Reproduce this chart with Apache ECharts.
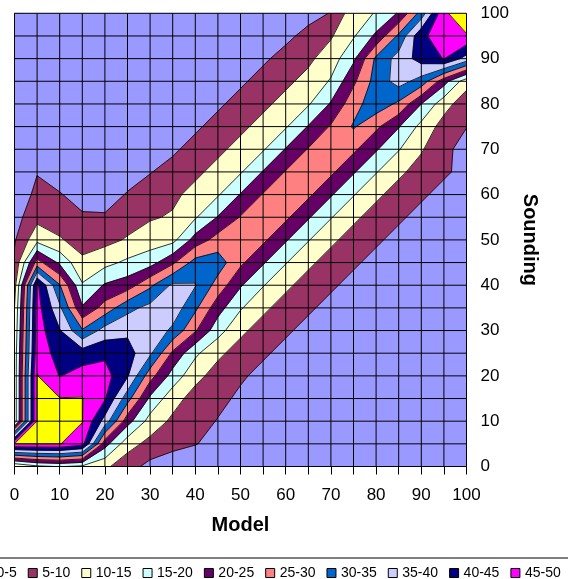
<!DOCTYPE html>
<html><head><meta charset="utf-8">
<script src="https://cdn.jsdelivr.net/npm/echarts/dist/echarts.min.js"></script>
<style>html,body{margin:0;padding:0;background:#fff;overflow:hidden}#c{width:568px;height:579px}</style>
</head><body><div id="c"></div><script>
// Model (x) and Sounding (y) grid values
const modelValues    = [0,5,10,15,20,25,30,35,40,45,50,55,60,65,70,75,80,85,90,95,100];
const soundingValues = [0,5,10,15,20,25,30,35,40,45,50,55,60,65,70,75,80,85,90,95,100];
// One row per sounding value; each row lists the value at every model value
const s0   = [10,14,15.3,14,11,7,3.5,2,1.5,1,0.6,0.5,0.4,0.4,0.4,0.4,0.4,0.4,0.4,0.4,0.4];
const s5   = [50.2,50.2,50.2,47,22,12,8.5,6.5,5.2,3.5,2.5,1.5,1,0.6,0.4,0.4,0.4,0.4,0.4,0.4,0.4];
const s10  = [12,50.2,54,50.2,38,22,13,9,6.5,4.8,3.3,2.2,1.4,0.9,0.6,0.4,0.4,0.4,0.4,0.4,0.4];
const s15  = [12,50.2,50.2,50.2,45.5,32,19,12,8,6,4.3,3,2,1.3,0.8,0.5,0.4,0.4,0.4,0.4,0.4];
const s20  = [12,50.2,44.8,47,47,40.5,27,18,11.5,8,5.5,4,2.5,1.5,1,0.6,0.4,0.4,0.4,0.4,0.4];
const s25  = [12,48,43,42.5,44,42,36,24,16,11,8,5.5,4,2.5,1.5,1,0.6,0.4,0.4,0.4,0.4];
const s30  = [11,47.5,40.3,30.5,37,39,38.5,34,25.5,17,11,8,5.5,4,2.5,1.5,1,0.6,0.4,0.4,0.4];
const s35  = [10,47,36,20.5,27,33.5,36.5,38,31,22,15.5,11,8,5.5,4,2.5,1.5,1,0.6,0.4,0.4];
const s40  = [8,46,30.3,15.5,20.5,22.5,29,36,35.3,28,20.5,15.3,11,8,5.5,4,2.5,1.5,1,0.6,0.4];
const s45  = [6,27,19,11,13.5,16,18,24,32,32.5,26,20.5,15.3,11,8,5.5,4,2.5,1.5,1,0.6];
const s50  = [4.5,13.5,10.5,8,8.5,10.5,12.5,13.5,22,27,28.5,26,20.5,15.3,11,8,5.5,4,2.5,1.5,1];
const s55  = [3,8.5,7.5,5.4,5.3,7.8,9.5,10.5,14.5,20.3,25.3,28.5,26,20.5,15.3,11,8,5.5,4,2.5,1.5];
const s60  = [2.2,6,5.2,3.8,3.8,5.2,7,9,11.5,14.5,20.3,25.3,28.5,26,20.5,15.3,11,8,5.5,4,2.5];
const s65  = [1.6,4.8,3.5,2.8,2.8,3.8,4.8,6.5,9,11.5,14.5,20.3,25.3,28.5,26,20.5,15.3,11,8,5.5,4];
const s70  = [1.2,3.5,2.5,2,2,2.8,3.5,4.3,6.5,9,11.5,14.5,20.3,25.3,29,26,20.5,15.3,10.5,6,3.5];
const s75  = [1,2.5,1.8,1.4,1.3,2,2.5,2.8,4.3,6.5,9,11.5,14.5,20.3,25.5,30.5,26,20.3,13.5,8,5.1];
const s80  = [0.8,1.8,1.3,1,0.9,1.4,1.8,1.8,2.8,4.3,6.5,9,11.5,14.5,20.5,28,33,29,20,12,7];
const s85  = [0.6,1.2,0.9,0.7,0.6,1,1.2,1.2,1.8,2.8,4.3,6.5,9,11.5,15.5,24,32,37,33,22,12];
const s90  = [0.5,0.8,0.7,0.5,0.5,0.7,0.8,0.8,1.2,1.8,2.8,4.3,6.5,9,12.5,19,31,37,42,45.2,38];
const s95  = [0.5,0.6,0.5,0.5,0.5,0.5,0.5,0.5,0.8,1.2,1.8,2.8,4,6.3,9.5,14.5,21,31,44,47.5,49.5];
const s100 = [0.5,0.5,0.5,0.5,0.5,0.5,0.5,0.5,0.5,0.8,1.2,1.8,2.5,3.5,5.2,13,15.3,20.5,32,49,54];
// Contour bands
const bandLabels = ['0-5','5-10','10-15','15-20','20-25','25-30','30-35','35-40','40-45','45-50','50-55'];
const bandEdges  = [0,5,10,15,20,25,30,35,40,45,50,55];
const bandColors = ['#9999FF','#993366','#FFFFCC','#CCFFFF','#660066','#FF8080','#0066CC','#CCCCFF','#000080','#FF00FF','#FFFF00'];

const rows = [s0,s5,s10,s15,s20,s25,s30,s35,s40,s45,s50,s55,s60,s65,s70,s75,s80,s85,s90,s95,s100];

function forCells(fn){
  for (let j=0;j<soundingValues.length-1;j++) for (let i=0;i<modelValues.length-1;i++){
    const x0=modelValues[i], x1=modelValues[i+1], y0=soundingValues[j], y1=soundingValues[j+1];
    fn([[x0,y0],[x1,y0],[x1,y1],[x0,y1]], [rows[j][i],rows[j][i+1],rows[j+1][i+1],rows[j+1][i]]);
  }
}
function bandPolys(lo, hi){
  const polys=[];
  forCells((P,V)=>{
    const pts=[];
    for (let k=0;k<4;k++){
      const a=V[k], b=V[(k+1)%4], pa=P[k], pb=P[(k+1)%4];
      if (a>=lo && a<hi) pts.push(pa);
      const cr=[];
      [lo,hi].forEach(L=>{
        if (isFinite(L) && ((a>=L)!==(b>=L))){
          const t=(L-a)/(b-a);
          cr.push([t,[pa[0]+t*(pb[0]-pa[0]), pa[1]+t*(pb[1]-pa[1])]]);
        }
      });
      cr.sort((p,q)=>p[0]-q[0]).forEach(c=>pts.push(c[1]));
    }
    if (pts.length>=3) polys.push(pts);
  });
  return polys;
}
function contourSegs(L){
  const segs=[];
  forCells((P,V)=>{
    const pts=[];
    for (let k=0;k<4;k++){
      const a=V[k], b=V[(k+1)%4], pa=P[k], pb=P[(k+1)%4];
      if ((a>=L)!==(b>=L)){
        const t=(L-a)/(b-a);
        pts.push([pa[0]+t*(pb[0]-pa[0]), pa[1]+t*(pb[1]-pa[1])]);
      }
    }
    if (pts.length===2) segs.push(pts);
    else if (pts.length===4){ segs.push([pts[0],pts[1]]); segs.push([pts[2],pts[3]]); }
  });
  return segs;
}

const bandPolygons = bandLabels.map((_,k)=>bandPolys(k===0?-Infinity:bandEdges[k], k===bandLabels.length-1?Infinity:bandEdges[k+1]));
const levelSegs = [];
for (let k=1;k<bandEdges.length-1;k++) contourSegs(bandEdges[k]).forEach(s=>levelSegs.push(s));

const FONT='"Liberation Sans", Arial, sans-serif';
const series = bandLabels.map((name,k)=>({
  type:'custom', name, coordinateSystem:'cartesian2d', silent:true, z:1,
  itemStyle:{color:bandColors[k]},
  data:[[50,50]],
  renderItem:(params,api)=>({type:'group', children: bandPolygons[k].map(p=>({
    type:'polygon', shape:{points:p.map(q=>api.coord(q))},
    style:{fill:bandColors[k], stroke:bandColors[k], lineWidth:0.5}
  }))})
}));
series.push({
  type:'custom', name:'contours', coordinateSystem:'cartesian2d', silent:true, z:2,
  data:[[50,50]],
  renderItem:(params,api)=>({type:'group', children: levelSegs.map(s=>({
    type:'line', shape:{x1:api.coord(s[0])[0], y1:api.coord(s[0])[1], x2:api.coord(s[1])[0], y2:api.coord(s[1])[1]},
    style:{stroke:'#000', lineWidth:0.8}
  }))})
});
series.push({
  type:'custom', name:'gridlines', coordinateSystem:'cartesian2d', silent:true, z:3,
  data:[[50,50]],
  renderItem:(params,api)=>{
    const ch=[];
    modelValues.forEach(x=>{const a=api.coord([x,0]), b=api.coord([x,100]); ch.push({type:'line',shape:{x1:a[0],y1:a[1],x2:b[0],y2:b[1]},style:{stroke:'#000',lineWidth:1}});});
    soundingValues.forEach(y=>{const a=api.coord([0,y]), b=api.coord([100,y]); ch.push({type:'line',shape:{x1:a[0],y1:a[1],x2:b[0],y2:b[1]},style:{stroke:'#000',lineWidth:1}});});
    return {type:'group', children:ch};
  }
});

const chart = echarts.init(document.getElementById('c'), null, {renderer:'canvas'});
chart.setOption({
  animation:false,
  backgroundColor:'#fff',
  grid:{left:14.5, right:101.5, top:13.3, bottom:112.5, containLabel:false},
  xAxis:{type:'value', min:0, max:100, interval:5,
    name:'Model', nameLocation:'middle', nameGap:49,
    nameTextStyle:{fontFamily:FONT, fontSize:20, fontWeight:'bold', color:'#000'},
    axisLine:{show:true, lineStyle:{color:'#000', width:1}},
    axisTick:{show:true, length:8, lineStyle:{color:'#000'}},
    axisLabel:{fontFamily:FONT, fontSize:17, color:'#000', margin:20, formatter:v=>v%10===0?String(v):''},
    splitLine:{show:false}},
  yAxis:{type:'value', position:'right', min:0, max:100, interval:5,
    name:'Sounding', nameLocation:'middle', nameGap:32, nameRotate:-90,
    nameTextStyle:{fontFamily:FONT, fontSize:20, fontWeight:'bold', color:'#000'},
    axisLine:{show:true, lineStyle:{color:'#000', width:1}},
    axisTick:{show:true, length:8, lineStyle:{color:'#000'}},
    axisLabel:{fontFamily:FONT, fontSize:17, color:'#000', margin:14, formatter:v=>v%10===0?String(v):''},
    splitLine:{show:false}},
  legend:{data:bandLabels, left:-18, top:566, width:900, padding:0, icon:'rect', itemWidth:9, itemHeight:9, itemGap:11,
    selectedMode:false, itemStyle:{borderColor:'#000', borderWidth:1},
    textStyle:{fontFamily:FONT, fontSize:14, color:'#000'}},
  graphic:[{type:'line', shape:{x1:0,y1:558,x2:568,y2:558}, style:{stroke:'#000', lineWidth:1}}],
  series
});
</script></body></html>
